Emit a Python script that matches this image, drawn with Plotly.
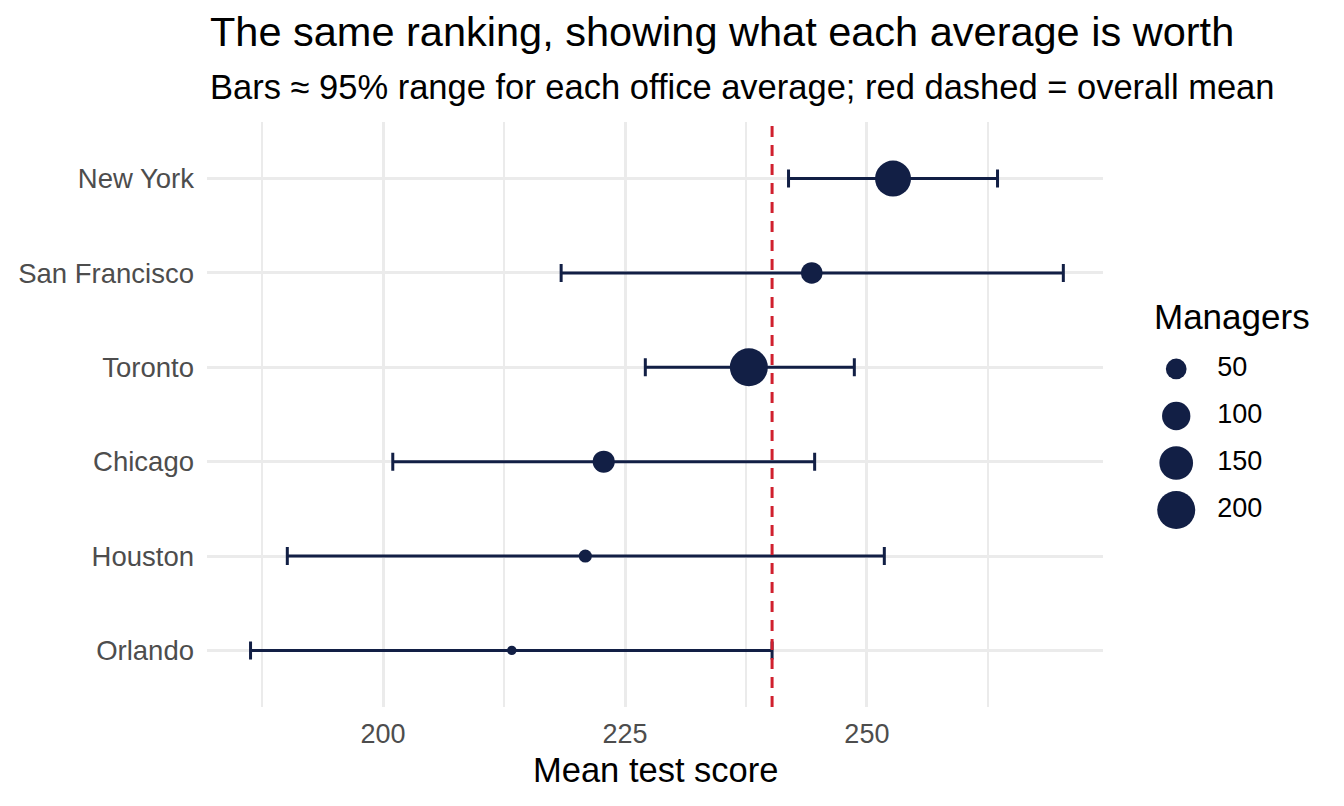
import numpy as np
import plotly.graph_objects as go

# office averages with ~95% ranges, top to bottom as shown
offices = ["New York", "San Francisco", "Toronto", "Chicago", "Houston", "Orlando"]
mean_score = [252.7, 244.3, 237.8, 222.8, 220.9, 213.3]
ci_low = [241.9, 218.4, 227.1, 201.0, 190.1, 186.3]
ci_high = [263.5, 270.3, 248.7, 244.6, 251.8, 240.2]
managers = [176, 54, 200, 57, 25, 22]
overall_mean = 240.2

size_breaks = [50, 100, 150, 200]
x_ticks = [200, 225, 250]

NAVY = "#121f45"
RED = "#d0202e"
GRID = "#ebebeb"
FONT = "Liberation Sans, Arial, Helvetica, sans-serif"

# ggplot-style area scale: diameter grows with sqrt of the count
D_MIN, D_MAX = 9.4, 38.0
v_min, v_max = min(managers), max(managers)


def dot_size(v):
    frac = np.clip((np.asarray(v, dtype=float) - v_min) / (v_max - v_min), 0, 1)
    return D_MIN + (D_MAX - D_MIN) * np.sqrt(frac)


err_plus = [h - m for h, m in zip(ci_high, mean_score)]
err_minus = [m - l for m, l in zip(mean_score, ci_low)]

fig = go.Figure()

fig.add_trace(
    go.Scatter(
        x=mean_score,
        y=offices,
        mode="markers",
        marker=dict(color=NAVY, size=dot_size(managers), opacity=1, line=dict(width=0)),
        error_x=dict(
            type="data",
            symmetric=False,
            array=err_plus,
            arrayminus=err_minus,
            color=NAVY,
            thickness=3,
            width=9,
        ),
        showlegend=False,
        hoverinfo="skip",
    )
)

# hand-made size legend on a hidden helper axis
fig.add_trace(
    go.Scatter(
        x=[45] * len(size_breaks),
        y=[str(b) for b in size_breaks],
        mode="markers",
        marker=dict(color=NAVY, size=dot_size(size_breaks), opacity=1, line=dict(width=0)),
        xaxis="x2",
        yaxis="y2",
        showlegend=False,
        hoverinfo="skip",
    )
)
fig.add_trace(
    go.Scatter(
        x=[86] * len(size_breaks),
        y=[str(b) for b in size_breaks],
        mode="text",
        text=[str(b) for b in size_breaks],
        textposition="middle right",
        textfont=dict(family=FONT, size=27, color="black"),
        xaxis="x2",
        yaxis="y2",
        showlegend=False,
        hoverinfo="skip",
    )
)

fig.add_shape(
    type="line",
    x0=overall_mean,
    x1=overall_mean,
    y0=0,
    y1=1,
    xref="x",
    yref="y domain",
    line=dict(color=RED, width=3, dash="11px,8px"),
    layer="above",
)

# the page body adds an 8px offset, so margins are pulled in by that much
plot_w = 1344 - 199 - 18
main_right = 896 / plot_w

fig.update_layout(
    width=1344,
    height=806,
    margin=dict(l=199, r=18, t=114, b=107, autoexpand=False),
    paper_bgcolor="white",
    plot_bgcolor="white",
    font=dict(family=FONT, color="black"),
    xaxis=dict(
        domain=[0, main_right],
        range=[181.8, 274.4],
        tickvals=x_ticks,
        ticktext=[str(t) for t in x_ticks],
        showgrid=True,
        gridcolor=GRID,
        gridwidth=2.6,
        minor=dict(dtick=12.5, tick0=187.5, showgrid=True, gridcolor=GRID, gridwidth=1.6),
        zeroline=False,
        showline=False,
        ticks="",
        automargin=False,
        ticklabelstandoff=8,
        tickfont=dict(family=FONT, size=27, color="#4d4d4d"),
    ),
    yaxis=dict(
        categoryorder="array",
        categoryarray=offices[::-1],
        range=[-0.6, len(offices) - 0.4],
        showgrid=True,
        gridcolor=GRID,
        gridwidth=2.6,
        zeroline=False,
        showline=False,
        ticks="",
        automargin=False,
        ticklabelstandoff=12,
        tickfont=dict(family=FONT, size=27.5, color="#4d4d4d"),
    ),
    xaxis2=dict(domain=[0.82, 0.98], range=[0, 180], anchor="y2", visible=False),
    yaxis2=dict(
        domain=[0.2966, 0.618],
        anchor="x2",
        categoryorder="array",
        categoryarray=[str(b) for b in size_breaks][::-1],
        range=[-0.5, len(size_breaks) - 0.5],
        visible=False,
    ),
    annotations=[
        dict(
            text="The same ranking, showing what each average is worth",
            xref="paper", yref="paper", x=0, y=1.155,
            xanchor="left", yanchor="middle", xshift=1,
            showarrow=False, font=dict(family=FONT, size=41.5, color="black"),
        ),
        dict(
            text="Bars \u2248 95% range for each office average; red dashed = overall mean",
            xref="paper", yref="paper", x=0, y=1.06,
            xanchor="left", yanchor="middle", xshift=1,
            showarrow=False, font=dict(family=FONT, size=34.5, color="black"),
        ),
        dict(
            text="Mean test score",
            xref="paper", yref="paper", x=main_right / 2, y=-0.108,
            xanchor="center", yanchor="middle",
            showarrow=False, font=dict(family=FONT, size=34.5, color="black"),
        ),
        dict(
            text="Managers",
            xref="paper", yref="paper", x=(1155 - 207) / plot_w, y=0.668,
            xanchor="left", yanchor="middle", xshift=-3,
            showarrow=False, font=dict(family=FONT, size=35, color="black"),
        ),
    ],
)

fig.write_html("out.html")
